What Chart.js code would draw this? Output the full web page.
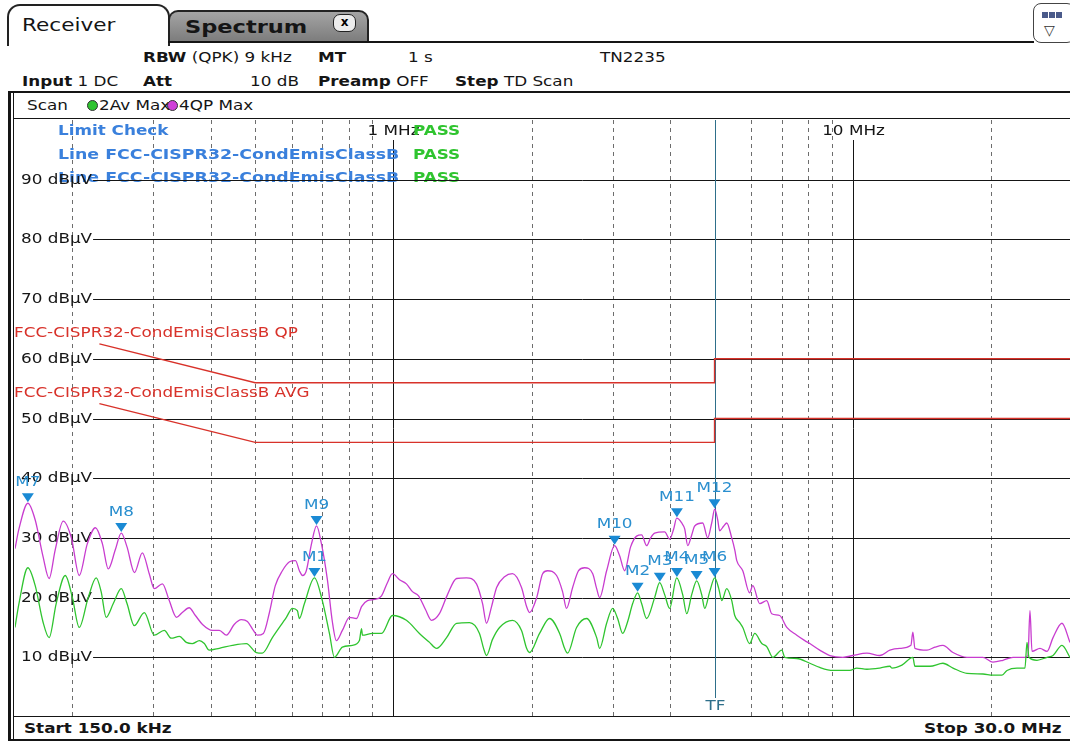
<!DOCTYPE html>
<html lang="en">
<head>
<meta charset="UTF-8">
<title>Receiver Scan</title>
<script src="https://cdn.jsdelivr.net/npm/chart.js@4.4.0/dist/chart.umd.min.js"></script>
<style>
  body { margin: 0; background: #fff; font-family: 'DejaVu Sans', sans-serif; }
  .screen { position: relative; width: 1070px; height: 744px; overflow: hidden; background: #fff; }
  .t { position: absolute; white-space: nowrap; font-size: 14px; line-height: 16px; color: #151515;
       transform: scaleX(1.2); transform-origin: 0 50%; }
  .t b { font-weight: bold; }
  .ln { position: absolute; background: #151515; }
  .tab-rx { position: absolute; left: 7px; top: 4px; width: 159px; height: 40px; border: 2px solid #222;
            border-bottom: none; border-radius: 13px 13px 0 0; background: #fff; }
  .tab-sp { position: absolute; left: 168px; top: 10px; width: 197px; height: 31px; border: 2px solid #222;
            border-bottom: none; border-radius: 10px 10px 0 0; background: linear-gradient(#a4a4a4, #7a7a7a); }
  .close { position: absolute; left: 333px; top: 14px; width: 21px; height: 16px; border: 1.5px solid #222;
           border-radius: 7px; background: #ececec; font: bold 12px 'DejaVu Sans'; text-align: center; line-height: 15px; }
  .icon { position: absolute; left: 1033px; top: 3px; width: 40px; height: 38px; border: 1.5px solid #444;
          border-radius: 8px; background: #fff; }
  .sq { position: absolute; top: 8px; width: 6px; height: 6px; background: #4a5a8a; }
  .dot { position: absolute; width: 9px; height: 9px; border-radius: 50%; border: 1px solid #333; }
  #chart { position: absolute; left: 15px; top: 120px; }
</style>
</head>
<body>
<div class="screen">
  <div class="tab-rx"></div>
  <div class="tab-sp"></div>
  <div class="ln" style="left:168px;top:41px;width:866px;height:2px"></div>
  <div class="t" style="left:22px;top:15px;font-size:18px;line-height:20px">Receiver</div>
  <div class="t" style="left:185px;top:17px;font-size:18px;line-height:20px;font-weight:bold;transform:scaleX(1.25)">Spectrum</div>
  <div class="close">x</div>
  <div class="icon">
    <div class="sq" style="left:8px"></div><div class="sq" style="left:15px"></div><div class="sq" style="left:22px"></div>
    <div style="position:absolute;left:10px;top:18px;font:14px 'DejaVu Sans';color:#333">&#9661;</div>
  </div>

  <div class="t" style="left:143px;top:49px"><b>RBW</b> (QPK) 9 kHz</div>
  <div class="t" style="left:318px;top:49px"><b>MT</b></div>
  <div class="t" style="left:408px;top:49px">1 s</div>
  <div class="t" style="left:600px;top:49px">TN2235</div>
  <div class="t" style="left:22px;top:73px"><b>Input</b> 1 DC</div>
  <div class="t" style="left:143px;top:73px"><b>Att</b></div>
  <div class="t" style="left:250px;top:73px">10 dB</div>
  <div class="t" style="left:318px;top:73px"><b>Preamp</b> OFF</div>
  <div class="t" style="left:455px;top:73px"><b>Step</b> TD Scan</div>

  <!-- frame -->
  <div class="ln" style="left:8px;top:91px;width:1062px;height:2px"></div>
  <div class="ln" style="left:8px;top:91px;width:3px;height:650px"></div>
  <div class="ln" style="left:13px;top:93px;width:1px;height:647px"></div>
  <div class="ln" style="left:13px;top:118px;width:1057px;height:1px"></div>
  <div class="ln" style="left:13px;top:716px;width:1057px;height:1px"></div>
  <div class="ln" style="left:8px;top:739px;width:1062px;height:2px"></div>

  <div class="t" style="left:27px;top:97px">Scan</div>
  <div class="dot" style="left:87px;top:100px;background:#2fc42f"></div>
  <div class="t" style="left:99px;top:97px">2Av Max</div>
  <div class="dot" style="left:167px;top:100px;background:#d040d8"></div>
  <div class="t" style="left:179px;top:97px">4QP Max</div>

  <canvas id="chart" width="1057" height="597"></canvas>

  <div class="t" style="left:24px;top:720px;font-weight:bold">Start 150.0 kHz</div>
  <div class="t" style="right:8px;top:720px;font-weight:bold;transform-origin:100% 50%">Stop 30.0 MHz</div>
</div>

<script>
// frequency in MHz, level in dBuV
const qpFreq = [0.150, 0.153, 0.160, 0.166, 0.1725, 0.178, 0.1835, 0.191, 0.199, 0.207, 0.2155, 0.2245, 0.2325, 0.2394,
  0.248, 0.2555, 0.263, 0.273, 0.284, 0.294, 0.3015, 0.314, 0.325, 0.337, 0.347, 0.359, 0.3705, 0.384, 0.4035, 0.4176,
  0.433, 0.450, 0.4665, 0.481, 0.4955, 0.5055, 0.521, 0.537, 0.553, 0.573, 0.594, 0.612, 0.624, 0.634, 0.646, 0.663,
  0.680, 0.697, 0.718, 0.736, 0.751, 0.774, 0.802, 0.831, 0.852, 0.878, 0.909, 0.942, 0.970, 0.995, 1.031, 1.067, 1.10,
  1.134, 1.174, 1.21, 1.259, 1.311, 1.372, 1.442, 1.516, 1.563, 1.594, 1.635, 1.677, 1.745, 1.816, 1.90, 1.949, 1.978,
  2.05, 2.112, 2.165, 2.265, 2.334, 2.381, 2.455, 2.529, 2.607, 2.715, 2.769, 2.811, 2.911, 3.03, 3.107, 3.186, 3.283,
  3.383, 3.469, 3.557, 3.629, 3.703, 3.894, 3.992, 4.074, 4.136, 4.241, 4.305, 4.371, 4.459, 4.527, 4.712, 4.831, 4.929,
  5.004, 5.08, 5.13, 5.236, 5.315, 5.45, 5.533, 5.589, 5.76, 5.96, 6.056, 6.27, 6.495, 6.66, 6.93, 7.182, 7.551, 7.861,
  8.06, 8.47, 8.91, 9.511, 10.0, 10.73, 11.45, 12.04, 12.66, 13.38, 13.51, 13.65, 14.5, 15.09, 15.71, 16.52, 17.72,
  19.2, 20.18, 21.22, 22.32, 23.7, 24.06, 24.3, 24.55, 25.55, 26.47, 27.28, 28.53, 29.7];
const qpLevel = [28.2, 31.5, 35.8, 33, 27, 23.2, 28, 32.8, 30, 23.7, 29, 31.7, 29, 24.8,
  28, 30.8, 28.5, 24.2, 27.5, 24, 21.5, 22.3, 19.5, 16.7, 17.5, 18.3, 17, 15.5, 14.5, 14.5,
  13.7, 15.5, 16.3, 16, 14.5, 13.7, 14, 17.5, 22, 24.5, 26, 26.2, 24.5, 23.7, 24.5, 29,
  32, 29, 23, 16, 12.8, 14.5, 16.7, 16.5, 18.5, 19.5, 19.7, 20.3, 22.5, 24, 23, 22.3, 21,
  20.3, 18, 16.2, 17.3, 20.5, 23.2, 23.3, 22.3, 19, 15.7, 18.5, 21.7, 23.5, 24, 21.7, 18.5, 17.5,
  20, 24, 24.5, 23.7, 21, 18.2, 21.7, 24.5, 25, 24, 21.5, 20, 24.5, 28.7, 27, 24.5, 28.5,
  30.3, 30.5, 28.7, 30, 30.8, 31, 29.8, 31.5, 33.3, 32.5, 31.5, 28.7, 30.5, 32, 32.5, 30, 32.5,
  34.8, 33, 31.2, 32, 32.5, 30, 28, 26.2, 24.5, 20.8, 22, 19, 19.5, 17.3, 17, 15, 13.7, 12.8,
  12.3, 11.2, 10.3, 10, 10.3, 10.7, 10.3, 11.2, 11.5, 12, 14.2, 11.5, 11.2, 11.7, 12, 10.8, 10,
  10, 9.2, 9.5, 10, 10, 10.3, 17.8, 11, 11.5, 11, 13.3, 15.7, 12.5];

const avFreq = [0.150, 0.153, 0.160, 0.166, 0.1725, 0.178, 0.1844, 0.193, 0.200, 0.207, 0.2165, 0.2254, 0.231, 0.2369,
  0.2455, 0.2555, 0.263, 0.2727, 0.2868, 0.3015, 0.317, 0.3283, 0.342, 0.354, 0.3648, 0.378, 0.3875, 0.397, 0.4176,
  0.4458, 0.4784, 0.503, 0.5183, 0.545, 0.5846, 0.6025, 0.6177, 0.624, 0.640, 0.673, 0.700, 0.7254, 0.7438, 0.774,
  0.814, 0.843, 0.852, 0.856, 0.900, 0.942, 0.995, 1.067, 1.139, 1.198, 1.241, 1.305, 1.372, 1.464, 1.539, 1.571,
  1.594, 1.643, 1.702, 1.816, 1.90, 1.949, 1.978, 2.08, 2.187, 2.30, 2.358, 2.393, 2.504, 2.633, 2.769, 2.811, 2.911,
  3.0, 3.076, 3.155, 3.235, 3.317, 3.401, 3.469, 3.557, 3.703, 3.797, 3.894, 3.992, 4.136, 4.262, 4.349, 4.459, 4.572,
  4.688, 4.76, 4.88, 5.004, 5.107, 5.184, 5.315, 5.45, 5.533, 5.673, 5.76, 5.96, 6.117, 6.336, 6.495, 6.694, 7.004,
  7.11, 7.551, 8.06, 8.47, 9.045, 9.85, 10.2, 10.73, 11.45, 12.04, 12.16, 12.79, 13.51, 13.65, 14.72, 15.71, 16.52,
  17.72, 19.2, 20.18, 21.12, 21.66, 22.77, 23.7, 23.94, 24.18, 25.17, 26.47, 27.28, 28.53, 29.7];
const avLevel = [15, 19, 25, 22, 16, 13.3, 19, 23.7, 20, 15, 20, 23.3, 21, 16.7,
  19, 21.5, 19, 15.3, 17.5, 13.7, 14.5, 13.2, 13.5, 12.5, 12.3, 12.8, 12.3, 11.2, 11.5,
  12, 12.3, 10.8, 10.7, 13.3, 16.7, 18.2, 17.8, 16.5, 19, 23.3, 19.5, 14, 10, 11.7,
  12, 12.8, 14.8, 13.7, 14, 14, 17, 16.2, 14, 12.5, 11.5, 13.3, 15.7, 15.8, 14, 11.5,
  10.3, 13, 15, 16.2, 14.5, 11.5, 10.8, 14, 16.5, 14, 11.5, 10.7, 15, 16.5, 13.3, 11.5, 15.7,
  18.2, 16.5, 14, 16, 19, 20.8, 19, 16.5, 20, 22.5, 20.5, 18.2, 23.3, 20.5, 17.3, 20.5, 22.8,
  20.5, 18.2, 21, 23.3, 21.5, 19.5, 21.5, 19.5, 17, 15.8, 15, 12.3, 14, 12.3, 11.8, 10, 11.2,
  10, 9.8, 9, 8.3, 7.8, 7.8, 8.2, 8, 8.2, 8.5, 8.2, 8.7, 10, 8.5, 8.5, 9, 8.2,
  7.3, 7.2, 7, 7, 7.8, 8.2, 8.2, 12.5, 10, 9.5, 10, 10.3, 12, 10];

const limitQpFreq = [0.229, 0.5, 5.0, 5.0, 30];
const limitQpLevel = [62.5, 56, 56, 60, 60];
const limitAvFreq = [0.229, 0.5, 5.0, 5.0, 30];
const limitAvLevel = [52.5, 46, 46, 50, 50];

const markerNames = ['M1', 'M2', 'M3', 'M4', 'M5', 'M6', 'M7', 'M8', 'M9', 'M10', 'M11', 'M12'];
const markerFreq = [0.673, 3.40, 3.80, 4.14, 4.57, 5.00, 0.160, 0.2555, 0.680, 3.03, 4.14, 5.00];
const markerLevel = [23.3, 20.8, 22.5, 23.3, 22.8, 23.3, 35.8, 30.8, 32.0, 28.7, 33.3, 34.8];

const gridFreqs = [0.2, 0.3, 0.4, 0.5, 0.6, 0.7, 0.8, 0.9, 2, 3, 4, 6, 7, 8, 9, 20];
const decadeFreqs = [1, 10];
const decadeLabels = ['1 MHz', '10 MHz'];
const levelTicks = [90, 80, 70, 60, 50, 40, 30, 20, 10];
const levelLabels = levelTicks.map(v => v + ' dB\u00b5V');
const tfFreq = 5.0;

const SX = 1.2; // the screen font is drawn a bit wider
const OX = 15, OY = 120; // page position of the canvas

function pts(fs, ls) { return fs.map((f, i) => ({ x: f, y: ls[i] })); }

function txt(ctx, s, x, y, font, color, align, sx) {
  sx = sx || SX;
  ctx.save();
  ctx.font = font;
  ctx.fillStyle = color;
  ctx.textBaseline = 'middle';
  const w = ctx.measureText(s).width * sx;
  let x0 = x;
  if (align === 'center') x0 = x - w / 2;
  if (align === 'right') x0 = x - w;
  ctx.translate(x0, y);
  ctx.scale(sx, 1);
  ctx.fillText(s, 0, 0);
  ctx.restore();
  return w;
}

function seg(ctx, x1, y1, x2, y2) {
  ctx.beginPath(); ctx.moveTo(x1, y1); ctx.lineTo(x2, y2); ctx.stroke();
}

const screenPlugin = {
  id: 'screen',
  beforeDatasetsDraw(chart) {
    const { ctx, chartArea: a, scales: { x, y } } = chart;
    const reg = "14px 'DejaVu Sans'";
    const bold = "bold 14px 'DejaVu Sans'";
    ctx.save();
    ctx.lineWidth = 1;

    // dashed frequency grid
    ctx.strokeStyle = '#6d6d6d';
    ctx.setLineDash([4, 4]);
    gridFreqs.forEach(f => {
      const px = Math.round(x.getPixelForValue(f)) + 0.5;
      seg(ctx, px, a.top, px, a.bottom);
    });
    ctx.setLineDash([]);

    // decades
    ctx.strokeStyle = '#151515';
    decadeFreqs.forEach((f, i) => {
      const px = Math.round(x.getPixelForValue(f)) + 0.5;
      seg(ctx, px, 140 - OY, px, a.bottom);
      txt(ctx, decadeLabels[i], px, 131 - OY, reg, '#151515', 'center');
    });

    // limit check block
    const blue = '#3a80dc', pass = '#2fc42f';
    txt(ctx, 'Limit Check', 58 - OX, 131 - OY, bold, blue);
    [155, 178].forEach(py => {
      ctx.save();
      ctx.beginPath(); ctx.rect(0, 0, 398 - OX, a.bottom); ctx.clip();
      txt(ctx, 'Line FCC-CISPR32-CondEmisClassB', 58 - OX, py - OY, bold, blue, null, 1.24);
      ctx.restore();
    });
    [131, 155, 178].forEach(py => txt(ctx, 'PASS', 413 - OX, py - OY, bold, pass));

    // level grid with labels
    levelTicks.forEach((v, i) => {
      const py = Math.round(y.getPixelForValue(v)) + 0.5;
      const w = txt(ctx, levelLabels[i], 21 - OX, py, reg, '#151515');
      ctx.strokeStyle = '#151515';
      seg(ctx, 21 - OX + w + 1, py, a.right, py);
    });

    // limit line names
    const red = '#d8322a';
    txt(ctx, 'FCC-CISPR32-CondEmisClassB QP', 14 - OX, 333 - OY, reg, red);
    txt(ctx, 'FCC-CISPR32-CondEmisClassB AVG', 14 - OX, 393 - OY, reg, red);

    // TF line
    const tx = Math.round(x.getPixelForValue(tfFreq)) + 0.5;
    ctx.strokeStyle = '#2e6f8a';
    seg(ctx, tx, a.top, tx, 698 - OY);
    txt(ctx, 'TF', tx, 706 - OY, reg, '#2e6f8a', 'center');
    ctx.restore();
  },
  afterDatasetsDraw(chart) {
    const { ctx, scales: { x, y } } = chart;
    ctx.save();
    markerNames.forEach((name, i) => {
      const px = x.getPixelForValue(markerFreq[i]);
      const py = y.getPixelForValue(markerLevel[i]);
      ctx.fillStyle = '#1a8ad4';
      ctx.beginPath();
      ctx.moveTo(px - 6, py - 10);
      ctx.lineTo(px + 6, py - 10);
      ctx.lineTo(px, py - 1);
      ctx.closePath();
      ctx.fill();
      txt(ctx, name, px, py - 21, "14px 'DejaVu Sans'", '#2a8fcf', 'center');
    });
    ctx.restore();
  }
};

new Chart(document.getElementById('chart'), {
  type: 'line',
  data: {
    datasets: [
      { data: pts(limitQpFreq, limitQpLevel), borderColor: '#d8322a', borderWidth: 1.4 },
      { data: pts(limitAvFreq, limitAvLevel), borderColor: '#d8322a', borderWidth: 1.4 },
      { data: pts(avFreq, avLevel), borderColor: '#2fc42f', borderWidth: 1.3, cubicInterpolationMode: 'monotone' },
      { data: pts(qpFreq, qpLevel), borderColor: '#c83ccf', borderWidth: 1.3, cubicInterpolationMode: 'monotone' }
    ]
  },
  options: {
    responsive: false,
    animation: false,
    layout: { padding: 0 },
    elements: { point: { radius: 0 }, line: { tension: 0 } },
    plugins: { legend: { display: false }, tooltip: { enabled: false } },
    scales: {
      x: { type: 'logarithmic', min: 0.15, max: 30, display: false },
      y: { type: 'linear', min: 0, max: 100, display: false }
    }
  },
  plugins: [screenPlugin]
});
</script>
</body>
</html>
